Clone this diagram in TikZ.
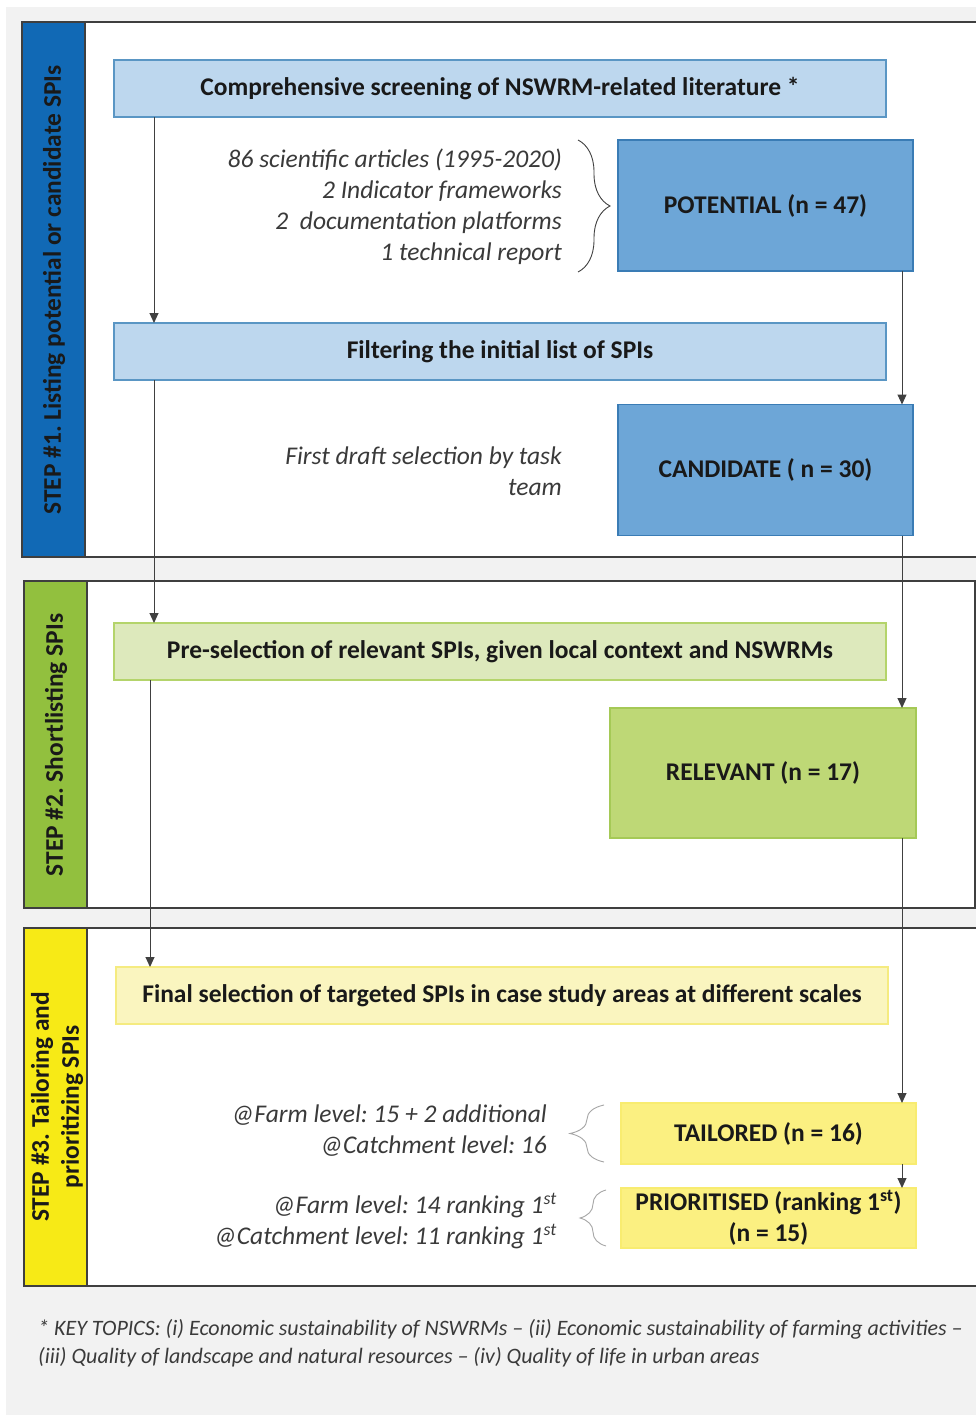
\documentclass[tikz,border=0pt]{standalone}
\usepackage{fontspec}
\setmainfont{Carlito}
\usetikzlibrary{arrows.meta,decorations.pathreplacing}
\frenchspacing

\definecolor{bgGray}{HTML}{F2F2F2}
\definecolor{frameGray}{HTML}{3F3F3F}
\definecolor{lineGray}{HTML}{404040}
\definecolor{noteGray}{HTML}{3A3A3A}
\definecolor{stepBlue}{HTML}{1169B5}
\definecolor{stepGreen}{HTML}{92C03E}
\definecolor{stepYellow}{HTML}{F7EA16}
\definecolor{paleBlue}{HTML}{BDD7EE}
\definecolor{paleBlueLine}{HTML}{5A96C4}
\definecolor{midBlue}{HTML}{6DA6D7}
\definecolor{midBlueLine}{HTML}{3A7CB5}
\definecolor{paleGreen}{HTML}{DDE9BC}
\definecolor{paleGreenLine}{HTML}{B4D46B}
\definecolor{midGreen}{HTML}{BED876}
\definecolor{midGreenLine}{HTML}{A5C956}
\definecolor{paleYellow}{HTML}{FAF5BF}
\definecolor{paleYellowLine}{HTML}{F5EB80}
\definecolor{midYellow}{HTML}{FBF081}
\definecolor{midYellowLine}{HTML}{F8EC70}

\tikzset{
  box/.style={draw, line width=1.2pt, inner sep=0pt, outer sep=0pt,
    font=\bfseries\fontsize{25.5}{31}\selectfont, text=black!90, align=center},
  widebox/.style={box, minimum width=772pt, minimum height=57pt},
  countbox/.style={box, minimum width=295pt, minimum height=131pt},
  note/.style={font=\itshape\fontsize{25.5}{31}\selectfont, text=noteGray,
    align=right, anchor=east, inner sep=0pt},
  flow/.style={draw=lineGray, line width=1pt, -{Triangle[length=10pt,width=9pt]}},
  panel/.style={fill=white, draw=frameGray, line width=1.5pt},
  steplabel/.style={rotate=90, font=\bfseries\fontsize{25.4}{30}\selectfont,
    align=center, text=black!90},
  curly/.style={decorate, decoration={brace, amplitude=#1}, line width=0.9pt}
}

\begin{document}
\begin{tikzpicture}[x=1pt, y=-1pt]

  % Page and background
  \useasboundingbox (0,0) rectangle (976,1420);
  \fill[bgGray] (6,7) rectangle (976,1415);
  \clip (0,0) rectangle (976,1420);

  % Step panels with coloured side strips
  \draw[panel] (22,22) rectangle (990,557);
  \draw[panel, fill=stepBlue] (22,22) rectangle (85,557);
  \node[steplabel] (stepA) at (54,290) {STEP \#1. Listing potential or candidate SPIs};

  \draw[panel] (24,581) rectangle (975,908);
  \draw[panel, fill=stepGreen] (24,581) rectangle (87,908);
  \node[steplabel] (stepB) at (56,745) {STEP \#2. Shortlisting SPIs};

  \draw[panel] (24,928) rectangle (990,1286);
  \draw[panel, fill=stepYellow] (24,928) rectangle (87,1286);
  \node[steplabel] (stepC) at (57,1107) {STEP \#3. Tailoring and\\prioritizing SPIs};

  % Step 1
  \node[widebox, fill=paleBlue, draw=paleBlueLine] (screen) at (500,88.5)
    {Comprehensive screening of NSWRM-related literature *};
  \node[countbox, fill=midBlue, draw=midBlueLine] (potential) at (765.5,205.5)
    {POTENTIAL (n = 47)};
  \node[note] (sources) at (562,207)
    {86 scientific articles (1995-2020)\\2 Indicator frameworks\\2\ \ documentation platforms\\1 technical report};
  \node[widebox, fill=paleBlue, draw=paleBlueLine] (filter) at (500,351.5)
    {Filtering the initial list of SPIs};
  \node[countbox, fill=midBlue, draw=midBlueLine] (candidate) at (765.5,470)
    {CANDIDATE ( n = 30)};
  \node[note] (draft) at (562,471) {First draft selection by task\\team};

  % Step 2
  \node[widebox, fill=paleGreen, draw=paleGreenLine] (preselect) at (500,651.5)
    {Pre-selection of relevant SPIs, given local context and NSWRMs};
  \node[countbox, minimum width=306pt, minimum height=130pt, fill=midGreen,
    draw=midGreenLine] (relevant) at (763,773) {RELEVANT (n = 17)};

  % Step 3
  \node[widebox, fill=paleYellow, draw=paleYellowLine] (final) at (502,995.5)
    {Final selection of targeted SPIs in case study areas at different scales};
  \node[box, minimum width=295pt, minimum height=61pt, fill=midYellow,
    draw=midYellowLine] (tailored) at (768.5,1133.5) {TAILORED (n = 16)};
  \node[box, minimum width=295pt, minimum height=60pt, fill=midYellow,
    draw=midYellowLine] (prioritised) at (768.5,1218)
    {PRIORITISED (ranking 1\textsuperscript{st})\\(n = 15)};
  \node[note] (farmA) at (547,1131) {@Farm level: 15 + 2 additional\\@Catchment level: 16};
  \node[note] (farmB) at (557,1221)
    {@Farm level: 14 ranking 1\textsuperscript{st}\\@Catchment level: 11 ranking 1\textsuperscript{st}};

  % Braces
  \draw[curly=32pt, draw=lineGray] (578,140) -- (578,272);
  \draw[curly=34pt, draw=gray!70] (604,1162) -- (604,1105);
  \draw[curly=26pt, draw=gray!70] (606,1246) -- (606,1190);

  % Flow columns
  \coordinate (colL) at (154,0);
  \coordinate (colM) at (150,0);
  \coordinate (colR) at (902,0);

  \draw[flow] (screen.south -| colL) -- (filter.north -| colL);
  \draw[flow] (filter.south -| colL) -- (preselect.north -| colL);
  \draw[flow] (preselect.south -| colM) -- (final.north -| colM);
  \foreach \a/\b in {potential/candidate, candidate/relevant, relevant/tailored, tailored/prioritised} {
    \draw[flow] (\a.south -| colR) -- (\b.north -| colR);
  }

  % Footnote
  \node[anchor=west, align=left, inner sep=0pt, text=noteGray,
    font=\itshape\fontsize{22}{28}\selectfont] (footnote) at (38,1343)
    {* KEY TOPICS: (i) Economic sustainability of NSWRMs -- (ii) Economic sustainability of farming activities --\\
     (iii) Quality of landscape and natural resources -- (iv) Quality of life in urban areas};

\end{tikzpicture}
\end{document}
